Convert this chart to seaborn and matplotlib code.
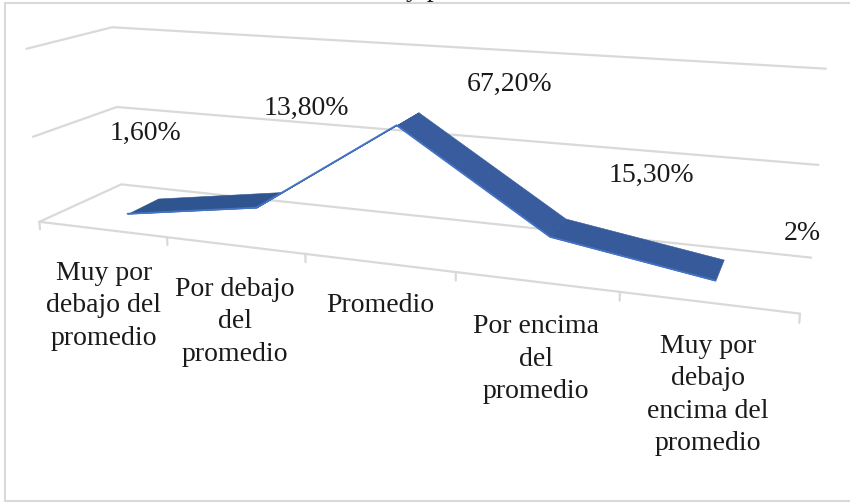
import numpy as np
import matplotlib
matplotlib.use("Agg")
import matplotlib.pyplot as plt
import seaborn as sns
from mpl_toolkits.mplot3d.art3d import Poly3DCollection

# Datos del grafico
categorias = ["Muy por\ndebajo del\npromedio", "Por debajo\ndel\npromedio", "Promedio",
              "Por encima\ndel\npromedio", "Muy por\ndebajo\nencima del\npromedio"]
valores = [1.6, 13.8, 67.2, 15.3, 2.0]
etiquetas = ["1,60%", "13,80%", "67,20%", "15,30%", "2%"]
niveles = [0, 50, 100]

W, H = 850, 503
GRIS = "#D9D9D9"
TEXTO = "#1A1A1A"
AZUL = "#4472C4"
colores_cinta = ["#2F5590", "#3A5FA3", "#385C9E", "#375A9A"]

sns.set_theme(style="white")
plt.rcParams["font.family"] = ["Liberation Serif", "DejaVu Serif"]

def px(x, y):
    """ pixel position of the reference -> figure fraction """
    return x / W, 1 - y / H

fig = plt.figure(figsize=(W / 100, H / 100), dpi=100, facecolor="white")

# camera values found by fitting the grid corners of the reference
s = 0.93053
cx, cy = 0.46666, 0.68019
ax = fig.add_axes([cx - s / 2, cy - s * W / H / 2, s, s * W / H], projection="3d")
ax.set_xlim(0, 5)
ax.set_ylim(0, 1)
ax.set_zlim(0, 100)
ax.view_init(14.0257, -69.59401, 0.12572)
ax.set_proj_type("persp", focal_length=0.29858)
ax.set_box_aspect((1, 0.20321, 0.23942))
ax.set_axis_off()
ax.patch.set_alpha(0)
ax.computed_zorder = False

n = len(valores)
# walls and floor
for nivel in niveles:
    ax.plot([0, 0, n], [0, 1, 1], [nivel, nivel, nivel], color=GRIS, lw=1.6, zorder=1, clip_on=False)
ax.plot([0, n], [0, 0], [0, 0], color=GRIS, lw=1.6, zorder=1, clip_on=False)
for i in range(n + 1):
    ax.plot([i, i], [0, 0], [0, -4.5], color=GRIS, lw=1.6, zorder=1, clip_on=False)

# ribbon between the two depths of the series
d0, d1 = 0.31099, 0.70778
xs = np.arange(n) + 0.5
for i in range(n - 1):
    quad = [(xs[i], d0, valores[i]), (xs[i + 1], d0, valores[i + 1]),
            (xs[i + 1], d1, valores[i + 1]), (xs[i], d1, valores[i])]
    ax.add_collection3d(Poly3DCollection([quad], facecolors=colores_cinta[i],
                                         edgecolors=colores_cinta[i], linewidths=0.4,
                                         zorder=3, clip_on=False))
ax.plot(xs, [d0] * n, valores, color=AZUL, lw=1.3, zorder=4, clip_on=False)

# texts
pos_cat = [(104, 306), (235, 322), (380, 306), (536, 359), (708, 395)]
for t, (x, y) in zip(categorias, pos_cat):
    fig.text(*px(x, y), t, ha="center", va="center", fontsize=20, color=TEXTO, linespacing=1.37)
pos_val = [(145, 133), (306, 108), (510, 84), (651, 175), (802, 233)]
for t, (x, y) in zip(etiquetas, pos_val):
    fig.text(*px(x, y), t, ha="center", va="center", fontsize=20, color=TEXTO)

# chart frame, the title is cut off by the crop of the picture
fig.add_artist(plt.Line2D([5 / W, 5 / W, 1], [1 - 3 / H, 1 - 501 / H, 1 - 501 / H], color=GRIS, lw=1.5))
fig.add_artist(plt.Line2D([5 / W, 1], [1 - 3 / H, 1 - 3 / H], color=GRIS, lw=1.5))
fig.text(*px(423, -4), "y p", ha="center", va="baseline", fontsize=20, color=TEXTO)

fig.savefig("out.png", dpi=100, facecolor="white")
